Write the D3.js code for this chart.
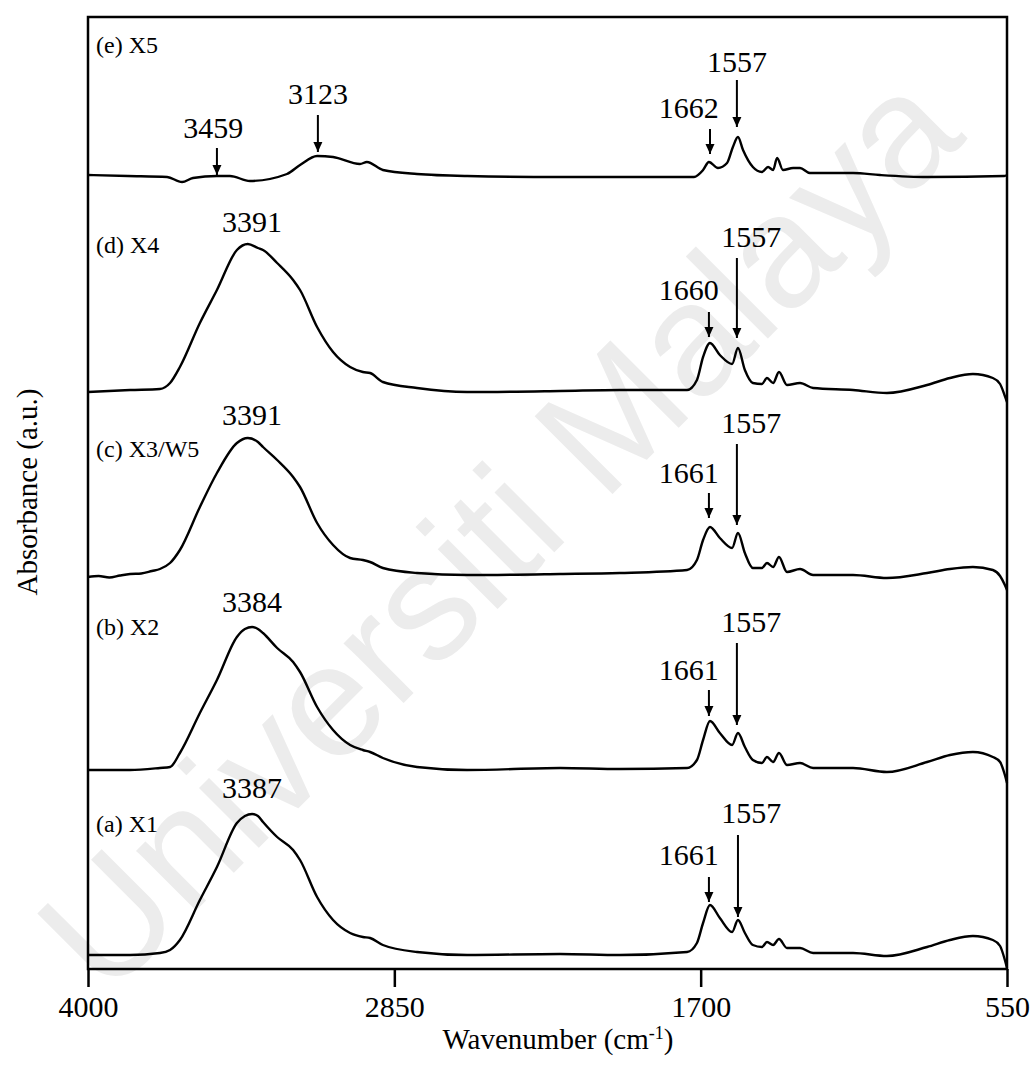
<!DOCTYPE html>
<html><head><meta charset="utf-8">
<script src="https://cdn.jsdelivr.net/npm/d3@7"></script>
<style>html,body{margin:0;padding:0;background:#fff;} svg{display:block;}</style>
</head><body>
<script>
// ---------- DATA ----------
const seriesNames = ["(a) X1", "(b) X2", "(c) X3/W5", "(d) X4", "(e) X5"];
const seriesOffsets = [0.14, 1.99, 3.96, 5.79, 7.93];   // vertical stacking offsets (a.u.)
const xTicks = [4000, 2850, 1700, 550];

const specA = [[4000,0],[3842,0],[3730,0.02],[3692,0.05],[3655,0.15],[3580,0.55],[3516,0.88],[3441,1.32],[3411,1.39],[3384,1.41],[3362,1.39],[3343,1.33],[3290,1.18],[3230,1.05],[3204,0.95],[3140,0.58],[3080,0.35],[3016,0.22],[2968,0.18],[2941,0.17],[2893,0.10],[2765,0.03],[2577,0],[2228,0.01],[2003,0],[1751,0.03],[1714,0.12],[1691,0.32],[1665,0.50],[1628,0.37],[1582,0.23],[1560,0.35],[1534,0.22],[1504,0.10],[1470,0.08],[1451,0.13],[1428,0.10],[1406,0.16],[1376,0.07],[1327,0.07],[1278,0.02],[1128,0.02],[1001,-0.01],[850,0.08],[764,0.15],[678,0.19],[603,0.15],[576,0.09],[558,-0.05],[550,-0.13]];
const specB = [[4000,0],[3842,0],[3730,0.02],[3692,0.03],[3655,0.17],[3580,0.57],[3516,0.90],[3441,1.33],[3411,1.41],[3384,1.43],[3362,1.41],[3343,1.37],[3290,1.22],[3230,1.08],[3204,0.98],[3140,0.63],[3080,0.40],[3016,0.25],[2968,0.20],[2941,0.18],[2893,0.12],[2765,0.03],[2577,0],[2228,0.02],[2003,0.01],[1751,0.02],[1714,0.10],[1691,0.30],[1665,0.49],[1628,0.37],[1582,0.25],[1560,0.37],[1534,0.23],[1504,0.10],[1470,0.07],[1451,0.13],[1428,0.08],[1406,0.17],[1376,0.05],[1327,0.07],[1278,0.02],[1128,0.02],[1001,-0.02],[850,0.08],[764,0.15],[678,0.18],[603,0.13],[576,0.08],[558,-0.05],[550,-0.13]];
const specC = [[4000,-0.04],[3960,-0.03],[3920,-0.045],[3880,-0.025],[3842,-0.01],[3800,-0.005],[3760,0.02],[3730,0.04],[3692,0.10],[3655,0.23],[3580,0.66],[3516,1.00],[3441,1.30],[3400,1.35],[3362,1.31],[3343,1.26],[3290,1.13],[3230,0.96],[3204,0.86],[3140,0.50],[3080,0.28],[3016,0.15],[2968,0.13],[2941,0.11],[2893,0.05],[2765,0],[2577,-0.02],[2228,-0.01],[2003,0],[1751,0.03],[1714,0.13],[1691,0.33],[1665,0.46],[1628,0.35],[1582,0.25],[1560,0.40],[1534,0.20],[1504,0.05],[1470,0.05],[1451,0.10],[1428,0.06],[1406,0.16],[1376,0.01],[1327,0.04],[1278,-0.02],[1128,-0.02],[1001,-0.05],[850,0],[764,0.04],[678,0.06],[603,0.03],[576,-0.03],[558,-0.12],[550,-0.17]];
const specD = [[4000,-0.02],[3842,0],[3730,0.01],[3692,0.07],[3655,0.23],[3580,0.67],[3516,1.00],[3441,1.40],[3400,1.46],[3362,1.42],[3343,1.40],[3290,1.27],[3230,1.10],[3204,1.00],[3140,0.63],[3080,0.38],[3016,0.23],[2968,0.18],[2941,0.17],[2893,0.08],[2765,0.02],[2577,-0.02],[2228,-0.01],[2003,0],[1751,0],[1714,0.10],[1691,0.33],[1665,0.47],[1628,0.35],[1582,0.26],[1560,0.42],[1534,0.20],[1504,0.07],[1470,0.06],[1451,0.12],[1428,0.07],[1406,0.18],[1376,0.05],[1327,0.07],[1278,0.02],[1128,0],[1001,-0.03],[850,0.05],[764,0.12],[678,0.16],[603,0.12],[576,0.06],[558,-0.06],[550,-0.12]];
const specE = [[4000,0.01],[3850,0],[3703,-0.01],[3647,-0.06],[3606,-0.02],[3516,0],[3467,0],[3392,-0.05],[3253,0.02],[3204,0.11],[3140,0.20],[3080,0.19],[2979,0.12],[2953,0.14],[2893,0.06],[2765,0.02],[2577,0],[2228,-0.01],[1725,-0.01],[1691,0.06],[1669,0.14],[1635,0.08],[1601,0.13],[1579,0.29],[1560,0.39],[1541,0.26],[1504,0.09],[1470,0.04],[1447,0.09],[1428,0.06],[1413,0.18],[1391,0.06],[1353,0.08],[1327,0.08],[1290,0.03],[1128,0.03],[1027,0.01],[850,-0.01],[560,0],[550,0.01]];
const spectra = [specA, specB, specC, specD, specE];

// peak annotations: series index, label text, arrow wavenumber (null = no arrow)
const peakSeries = [4,4,4,4, 3,3,3, 2,2,2, 1,1,1, 0,0,0];
const peakText   = ["3459","3123","1662","1557", "3391","1660","1557", "3391","1661","1557", "3384","1661","1557", "3387","1661","1557"];
const peakArrowWn= [3516,3137,1665,1564, null,1669,1564, null,1669,1564, null,1669,1564, null,1669,1560];
const peakTextWn = [3530,3137,1745,1564, 3384,1745,1510, 3384,1745,1510, 3384,1745,1510, 3384,1745,1510];
// levels (a.u. above each series baseline): label baseline, arrow tail, arrow tip
const peakLabelLv= [0.38,0.72,0.58,1.04, 1.58,0.90,1.43, 1.48,0.90,1.40, 1.58,0.90,1.38, 1.57,0.90,1.32];
const peakTailLv = [0.28,0.61,0.47,0.96, null,0.78,1.32, null,0.80,1.29, null,0.80,1.27, null,0.78,1.20];
const peakTipLv  = [0.01,0.24,0.22,0.49, null,0.53,0.52, null,0.55,0.48, null,0.54,0.45, null,0.53,0.38];
const seriesLabelLv = [1.23, 1.35, 1.16, 1.37, 1.23];

// ---------- LAYOUT ----------
const W = 1034, H = 1071;
const L = 88, R = 1007, T = 17, B = 969;
const FONT = "'Liberation Serif','Times New Roman',serif";

const svg = d3.select("body").append("svg").attr("width", W).attr("height", H);

// watermark
svg.append("text")
  .attr("transform", "translate(498,530) rotate(-45)")
  .attr("text-anchor", "middle").attr("dominant-baseline", "central")
  .attr("font-family", "'Liberation Sans',Arial,sans-serif")
  .attr("font-size", 160).attr("fill", "#ececec")
  .text("Universiti Malaya");

const x = d3.scaleLinear().domain([4000, 550]).range([L, R]);
const y = d3.scaleLinear().domain([0, 9.52]).range([B, T]);

// axis
const gx = svg.append("g").attr("transform", `translate(0,${B})`)
  .call(d3.axisBottom(x).tickValues(xTicks).tickSize(18).tickPadding(9).tickSizeOuter(0).tickFormat(d3.format("d")));
gx.select(".domain").remove();
gx.selectAll(".tick line").attr("stroke", "#000").attr("stroke-width", 2.5);
gx.selectAll(".tick text").attr("font-family", FONT).attr("font-size", 30).attr("fill", "#000");

// frame
svg.append("rect").attr("x", L).attr("y", T).attr("width", R - L).attr("height", B - T)
  .attr("fill", "none").attr("stroke", "#000").attr("stroke-width", 2.5);

// spectra
const line = d3.line().curve(d3.curveMonotoneX);
spectra.forEach((s, i) => {
  line.x(d => x(d[0])).y(d => y(seriesOffsets[i] + d[1]));
  svg.append("path").attr("d", line(s)).attr("fill", "none")
    .attr("stroke", "#000").attr("stroke-width", 2.4).attr("stroke-linejoin", "round");
});

// series labels
seriesNames.forEach((n, i) => {
  svg.append("text").attr("x", 96).attr("y", y(seriesOffsets[i] + seriesLabelLv[i]))
    .attr("font-family", FONT).attr("font-size", 24).text(n);
});

// arrowhead marker
svg.append("defs").append("marker").attr("id", "ah")
  .attr("viewBox", "0 0 10 10").attr("refX", 10).attr("refY", 5)
  .attr("markerUnits", "userSpaceOnUse").attr("markerWidth", 10).attr("markerHeight", 10)
  .attr("orient", "auto")
  .append("path").attr("d", "M0,0.5 L10,5 L0,9.5 Z").attr("fill", "#000");

// peak annotations
peakText.forEach((t, k) => {
  const o = seriesOffsets[peakSeries[k]];
  svg.append("text").attr("x", x(peakTextWn[k])).attr("y", y(o + peakLabelLv[k]))
    .attr("text-anchor", "middle").attr("font-family", FONT).attr("font-size", 30).text(t);
  if (peakArrowWn[k] !== null) {
    svg.append("line")
      .attr("x1", x(peakArrowWn[k])).attr("x2", x(peakArrowWn[k]))
      .attr("y1", y(o + peakTailLv[k])).attr("y2", y(o + peakTipLv[k]))
      .attr("stroke", "#000").attr("stroke-width", 2).attr("marker-end", "url(#ah)");
  }
});

// axis titles
svg.append("text").attr("x", 558).attr("y", 1049).attr("text-anchor", "middle")
  .attr("font-family", FONT).attr("font-size", 29)
  .html("Wavenumber (cm<tspan dy='-10' font-size='18'>-1</tspan><tspan dy='10'>)</tspan>");
svg.append("text").attr("transform", "translate(37,492) rotate(-90)").attr("text-anchor", "middle")
  .attr("font-family", FONT).attr("font-size", 29).text("Absorbance (a.u.)");
</script>
</body></html>
